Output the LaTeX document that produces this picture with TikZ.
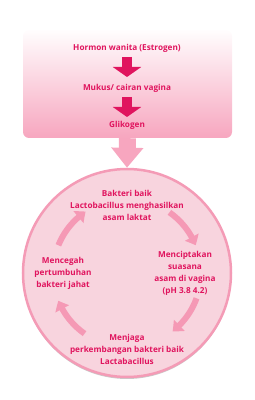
\documentclass[tikz,border=0pt]{standalone}
\usepackage{fontspec}
\setmainfont{Open Sans}
\usetikzlibrary{positioning,arrows.meta,bending}
\definecolor{txtpink}{HTML}{E0145E}
\definecolor{boxpink}{HTML}{F7A6BF}
\definecolor{ringpink}{HTML}{F49BB6}
\definecolor{fillpink}{HTML}{F8D4DE}
\definecolor{curvepink}{HTML}{F599B5}

\begin{document}
\begin{tikzpicture}
    [x=1pt, y=1pt,
    node distance =10pt,
    txt/.style={font=\bfseries\fontsize{8.2}{12}\selectfont, text=txtpink, align=center, inner sep=0pt},
    stepdown/.style={line width=10pt, txtpink, -{Triangle[width=28pt, length=10pt]}},
    bigdown/.style={line width=17pt, boxpink, -{Triangle[width=31pt, length=20pt]}},
    turn/.style={line width=6pt, curvepink, -{Triangle[bend, width=15pt, length=9pt]}}]
    \useasboundingbox (0,0) rectangle (255,400);

        %% panel with the hormone chain
    \node[rounded corners=6pt, top color=boxpink!2, bottom color=boxpink, minimum width=209pt, minimum height=108pt, inner sep=0pt] (panel) at (127.5,316) {};
    \node[txt] (hormon) at (127,352) {Hormon wanita (Estrogen)};
    \node[txt] (mukus) at (127,312) {Mukus/ cairan vagina};
    \node[txt] (glikogen) at (127,275) {Glikogen};

    \draw[stepdown] (127,343) to (127,323);
    \draw[stepdown] (127,303) to (127,283);

        %% cycle
    \fill[black!35, opacity=0.6] (127,125) circle (104pt);
    \node[circle, draw=ringpink, line width=2.5pt, fill=fillpink, minimum size=208pt, inner sep=0pt] (siklus) at (127,127) {};
    \draw[bigdown] (panel.south) to (siklus.north);

    \node[txt] (bakteri) at (127,195) {Bakteri baik\\Lactobacillus menghasilkan\\asam laktat};
    \node[txt] (suasana) at (185,127) {Menciptakan\\suasana\\asam di vagina\\(pH 3.8 4.2)};
    \node[txt] (menjaga) at (127,51) {Menjaga\\perkembangan bakteri baik\\Lactabacillus};
    \node[txt] (mencegah) at (63,127) {Mencegah\\pertumbuhan\\bakteri jahat};

    \draw[turn] (siklus.center) ++(158:74) arc[start angle=158, end angle=124, radius=74];
    \draw[turn] (siklus.center) ++(55:74) arc[start angle=55, end angle=22, radius=74];
    \draw[turn] (siklus.center) ++(-20:74) arc[start angle=-20, end angle=-52, radius=74];
    \draw[turn] (siklus.center) ++(-125:74) arc[start angle=-125, end angle=-158, radius=74];
\end{tikzpicture}
\end{document}
